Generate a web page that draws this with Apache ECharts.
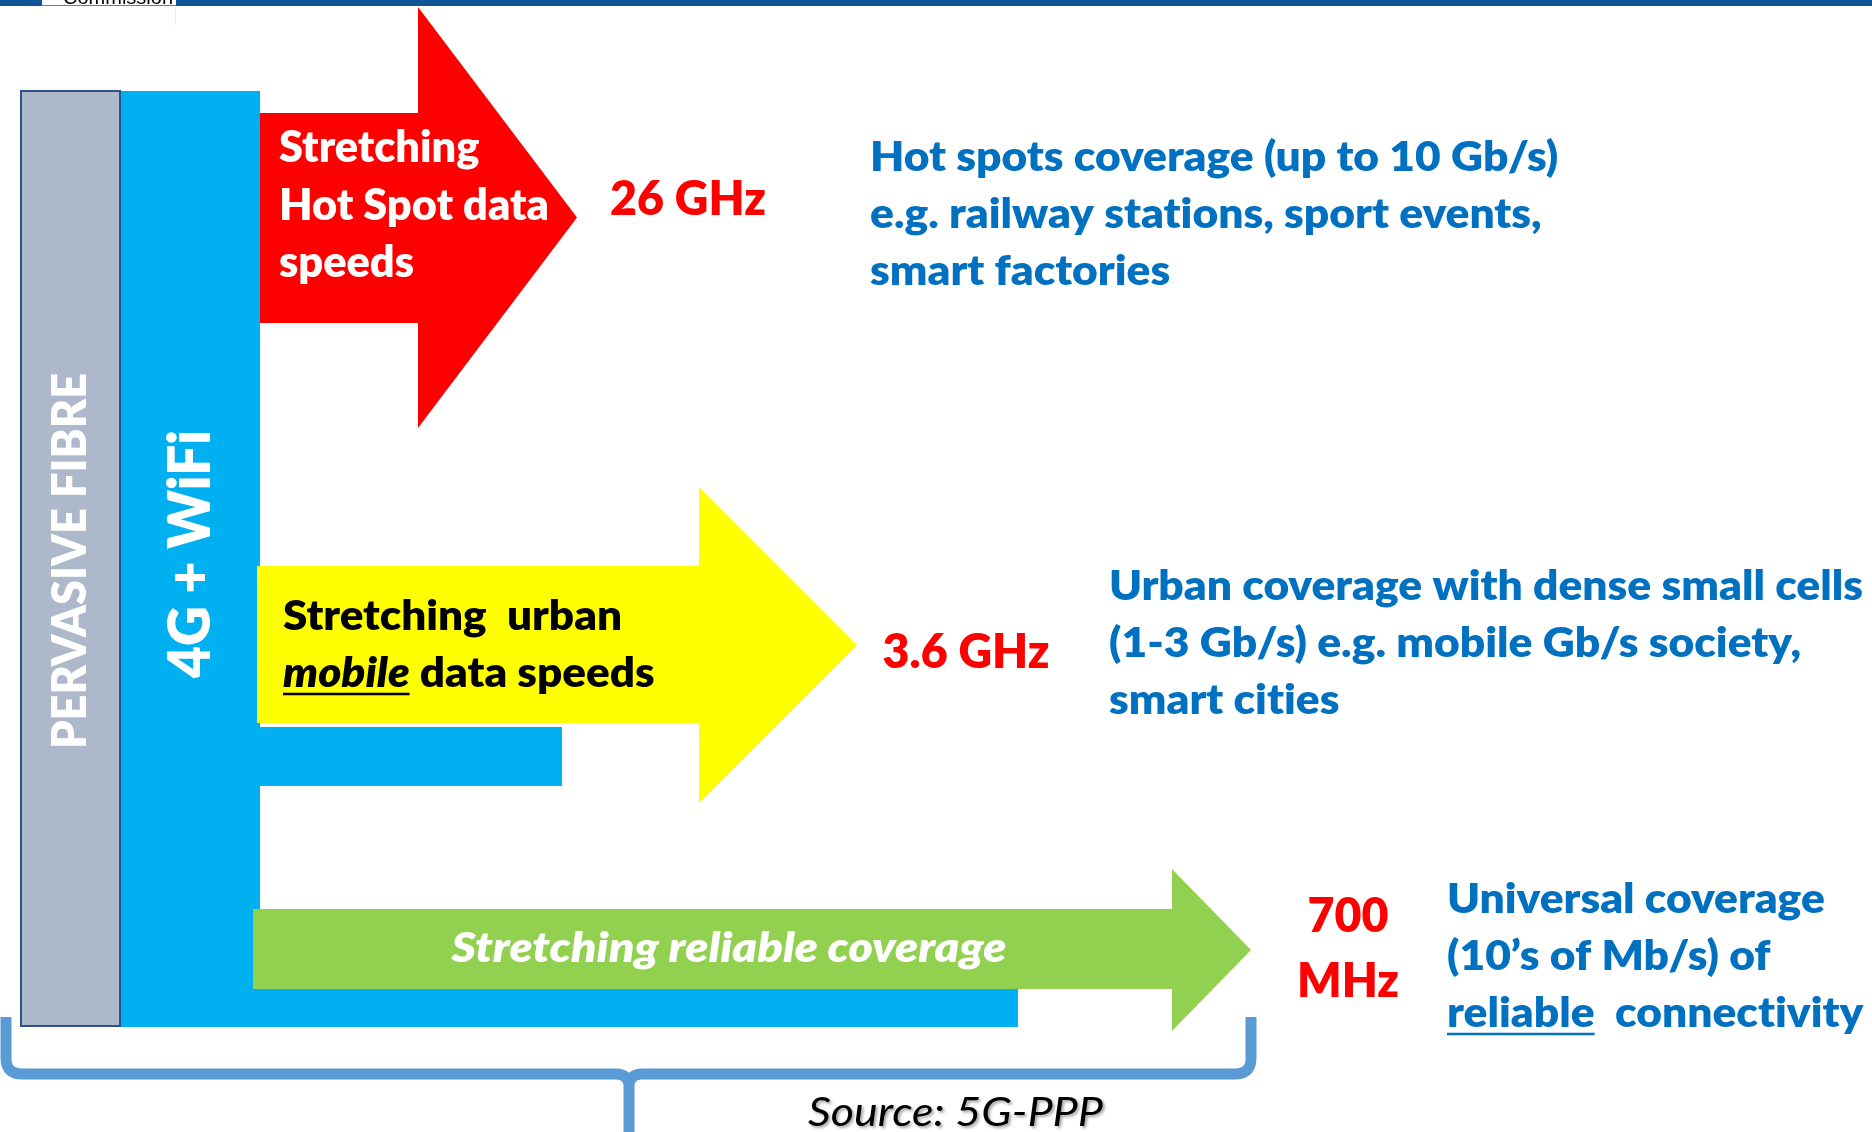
<!DOCTYPE html>
<html>
<head>
<meta charset="utf-8">
<title>5G pioneer bands</title>
<script src="https://cdn.jsdelivr.net/npm/echarts@6.0.0/dist/echarts.min.js"></script>
<style>
  html, body { margin: 0; padding: 0; background: #fff; }
  #chart { width: 1872px; height: 1132px; }
</style>
</head>
<body>
<div id="chart"></div>
<script>
// the slide is laid out on a hidden value grid: 1 unit = 1 px of the slide, y grows downwards
var W = 1872, H = 1132

// vertical columns
var columnTitles = ['PERVASIVE FIBRE', '4G + WiFi']
var columnLeft = [21, 120]
var columnRight = [120, 260]
var columnTop = [91, 91]
var columnBottom = [1026, 1027]

// blue feet of the 4G + WiFi column
var footLeft = [258, 119]
var footRight = [562, 1018]
var footTop = [727, 989]
var footBottom = [786, 1027]

// block arrows, top to bottom
var arrowCaptions = [
  ['Stretching', 'Hot Spot data', 'speeds'],
  ['Stretching  urban', '*mobile* data speeds'],
  ['Stretching reliable coverage']
]
var arrowLeft = [260, 257, 253]
var arrowBodyTop = [113, 566, 909]
var arrowBodyBottom = [323, 723, 989]
var arrowNeck = [418, 699, 1172]
var arrowHeadTop = [7, 487, 869]
var arrowHeadBottom = [428, 803, 1031]
var arrowTip = [577, 857, 1251]

// spectrum bands and what they give
var bandLabels = [['26 GHz'], ['3.6 GHz'], ['700', 'MHz']]
var bandNotes = [
  ['Hot spots coverage (up to 10 Gb/s)', 'e.g. railway stations, sport events,', 'smart factories'],
  ['Urban coverage with dense small cells', '(1-3 Gb/s) e.g. mobile Gb/s society,', 'smart cities'],
  ['Universal coverage', '(10\u2019s of Mb/s) of', '_reliable_  connectivity']
]
var sourceNote = 'Source: 5G-PPP'

// brace under the arrows: left end, stem, right end / ends top, bar, stem bottom
var braceX = [6, 629, 1251]
var braceY = [1017, 1074, 1132]

var C = {
  header: '#0f5598',
  fibre: '#adb9ca',
  fibreLine: '#2f528f',
  wifi: '#00b0f0',
  arrows: ['#ff0000', '#ffff00', '#92d050'],
  band: '#ff0000',
  note: '#0070c0',
  brace: '#5b9bd5'
}
var BOLD = '800'

// ---- text helpers ----
var ctx = document.createElement('canvas').getContext('2d')

function fontOf(size, weight, italic, family) {
  return (italic ? 'italic' : 'normal') + ' ' + weight + ' ' + size + 'px ' + (family || 'Lato')
}
// Lato would join "ti" into a ligature, the slide font does not
function noLig(s) {
  return s.replace(/ti/g, 't\u200ci').replace(/f([il])/g, 'f\u200c$1')
}
function textWidth(s, font) {
  ctx.font = font
  return ctx.measureText(noLig(s)).width
}
// distance from the 'middle' baseline (used by zrender) down to the alphabetic one
function midShift(font) {
  ctx.font = font
  ctx.textBaseline = 'alphabetic'
  var a = ctx.measureText('H').actualBoundingBoxAscent
  ctx.textBaseline = 'middle'
  var m = ctx.measureText('H').actualBoundingBoxAscent
  ctx.textBaseline = 'alphabetic'
  return a - m
}
// *x* = italic + underline, _x_ = underline
function runsOf(line) {
  var out = []
  line.split(/(\*[^*]+\*|_[^_]+_)/g).forEach(function (p) {
    if (!p) return
    if (p[0] === '*') out.push({ t: p.slice(1, -1), it: true, ul: true })
    else if (p[0] === '_') out.push({ t: p.slice(1, -1), ul: true })
    else out.push({ t: p })
  })
  return out
}
function lineWidth(b, line) {
  var w = 0
  runsOf(line).forEach(function (r) {
    w += textWidth(r.t, fontOf(b.size, b.weight, r.it || b.italic))
  })
  return w
}

// text blocks: anchor is the alphabetic baseline of the first line
var blocks = []
function addBlock(lines, x, y, step, opt) {
  var b = Object.assign({ lines: lines, x: x, y: y, step: step, weight: BOLD, align: 'left', rot: 0 }, opt)
  b.sx = b.fitWidth / lineWidth(b, b.fitText)
  blocks.push(b)
}
addBlock([columnTitles[0]], 86, 561, 0, { size: 47, color: '#fff', align: 'center', rot: Math.PI / 2, fitText: columnTitles[0], fitWidth: 376 })
addBlock([columnTitles[1]], 210, 554, 0, { size: 58, color: '#fff', align: 'center', rot: Math.PI / 2, fitText: columnTitles[1], fitWidth: 248 })
addBlock(arrowCaptions[0], 279, 162, 57.5, { size: 43, color: '#fff', fitText: 'Hot Spot data', fitWidth: 270 })
addBlock(arrowCaptions[1], 283, 630, 57, { size: 42, color: '#000', fitText: 'Stretching  urban', fitWidth: 339 })
addBlock(arrowCaptions[2], 729, 962, 0, { size: 42, color: '#fff', italic: true, align: 'center', fitText: arrowCaptions[2][0], fitWidth: 555 })
var bandX = [688, 966, 1348], bandY = [215, 668, 932]
bandLabels.forEach(function (l, i) {
  addBlock(l, bandX[i], bandY[i], 65, { size: 48, color: C.band, align: 'center', fitText: '3.6 GHz', fitWidth: 167 })
})
var noteX = [870, 1109, 1447], noteY = [171, 600, 913]
bandNotes.forEach(function (l, i) {
  addBlock(l, noteX[i], noteY[i], 57, { size: 41, color: C.note, fitText: 'Urban coverage with dense small cells', fitWidth: 754 })
})
addBlock([sourceNote], 808, 1126, 0, { size: 40, weight: 'normal', italic: true, color: '#000', shadow: true, fitText: sourceNote, fitWidth: 295 })

var textData = []
blocks.forEach(function (b, bi) {
  b.lines.forEach(function (l, li) { textData.push([b.x, b.y + li * b.step, bi, li]) })
})

// ---- render functions ----
function renderRect(params, api) {
  var a = api.coord([api.value(0), api.value(1)])
  var c = api.coord([api.value(2), api.value(3)])
  var fibre = api.value(4) === 0
  return {
    type: 'rect',
    shape: { x: a[0], y: a[1], width: c[0] - a[0], height: c[1] - a[1] },
    style: fibre ? { fill: C.fibre, stroke: C.fibreLine, lineWidth: 2 } : { fill: C.wifi }
  }
}

function renderArrow(params, api) {
  var l = api.value(0), bt = api.value(1), bb = api.value(2), n = api.value(3)
  var ht = api.value(4), hb = api.value(5), tip = api.value(6)
  var pts = [[l, bt], [n, bt], [n, ht], [tip, (ht + hb) / 2], [n, hb], [n, bb], [l, bb]].map(function (p) {
    return api.coord(p)
  })
  return { type: 'polygon', shape: { points: pts }, style: { fill: C.arrows[api.value(7)] } }
}

function renderBrace(params, api) {
  var L = api.coord([api.value(0), api.value(3)])
  var M = api.coord([api.value(1), api.value(4)])
  var R = api.coord([api.value(2), api.value(3)])
  var bottom = api.coord([api.value(1), api.value(5)])[1]
  var r = 16, r2 = 13
  var d = 'M' + L[0] + ' ' + L[1] + 'L' + L[0] + ' ' + (M[1] - r) +
    'Q' + L[0] + ' ' + M[1] + ' ' + (L[0] + r) + ' ' + M[1] +
    'L' + (M[0] - r2) + ' ' + M[1] +
    'Q' + M[0] + ' ' + M[1] + ' ' + M[0] + ' ' + (M[1] + r2) +
    'L' + M[0] + ' ' + bottom +
    'M' + R[0] + ' ' + R[1] + 'L' + R[0] + ' ' + (M[1] - r) +
    'Q' + R[0] + ' ' + M[1] + ' ' + (R[0] - r) + ' ' + M[1] +
    'L' + (M[0] + r2) + ' ' + M[1] +
    'Q' + M[0] + ' ' + M[1] + ' ' + M[0] + ' ' + (M[1] + r2)
  return { type: 'path', shape: { pathData: d }, style: { fill: 'none', stroke: C.brace, lineWidth: 11 } }
}

function renderText(params, api) {
  var b = blocks[api.value(2)]
  var line = b.lines[api.value(3)]
  var p = api.coord([api.value(0), api.value(1)])
  var runs = runsOf(line), total = 0
  runs.forEach(function (r) {
    r.italic = r.it || b.italic
    r.font = fontOf(b.size, b.weight, r.italic)
    r.w = textWidth(r.t, r.font)
    total += r.w
  })
  var cx = b.align === 'center' ? -total / 2 : 0
  var children = []
  runs.forEach(function (r) {
    var st = {
      text: noLig(r.t), x: cx, y: -midShift(r.font),
      fill: b.color, fontSize: b.size, fontFamily: 'Lato',
      fontWeight: b.weight, fontStyle: r.italic ? 'italic' : 'normal',
      align: 'left', verticalAlign: 'middle'
    }
    if (b.shadow) {
      st.textShadowColor = 'rgba(0,0,0,0.35)'
      st.textShadowBlur = 3
      st.textShadowOffsetX = 2
      st.textShadowOffsetY = 2
    }
    children.push({ type: 'text', style: st })
    if (r.ul) {
      children.push({
        type: 'line',
        shape: { x1: cx, y1: 7, x2: cx + r.w, y2: 7 },
        style: { stroke: b.color, lineWidth: 2.5 }
      })
    }
    cx += r.w
  })
  return { type: 'group', x: p[0], y: p[1], rotation: b.rot, scaleX: b.sx, children: children }
}

var rectData = [
  [columnLeft[1], columnTop[1], columnRight[1], columnBottom[1], 1],
  [footLeft[0], footTop[0], footRight[0], footBottom[0], 1],
  [footLeft[1], footTop[1], footRight[1], footBottom[1], 1],
  [columnLeft[0], columnTop[0], columnRight[0], columnBottom[0], 0]
]
var arrowData = arrowLeft.map(function (l, i) {
  return [l, arrowBodyTop[i], arrowBodyBottom[i], arrowNeck[i], arrowHeadTop[i], arrowHeadBottom[i], arrowTip[i], i]
})
var braceData = [[braceX[0], braceX[1], braceX[2], braceY[0], braceY[1], braceY[2]]]

var chart = echarts.init(document.getElementById('chart'), null, { renderer: 'canvas' })
chart.setOption({
  animation: false,
  backgroundColor: '#fff',
  grid: { left: 0, right: 0, top: 0, bottom: 0 },
  xAxis: { type: 'value', min: 0, max: W, show: false },
  yAxis: { type: 'value', min: 0, max: H, inverse: true, show: false },
  graphic: [
    { type: 'rect', shape: { x: 0, y: 0, width: W, height: 6 }, style: { fill: C.header } },
    { type: 'rect', shape: { x: 42, y: 0, width: 134, height: 5 }, style: { fill: '#fff' } },
    { type: 'line', shape: { x1: 42, y1: 5.5, x2: 176, y2: 5.5 }, style: { stroke: '#4a7fd0', lineWidth: 1 } },
    {
      type: 'text', x: 63, y: 4 - midShift('normal normal 20px Liberation Sans'),
      style: { text: 'Commission', fill: '#000', fontSize: 20, fontFamily: 'Liberation Sans', verticalAlign: 'middle' }
    },
    { type: 'line', shape: { x1: 175.5, y1: 7, x2: 175.5, y2: 25 }, style: { stroke: '#e6ebf2', lineWidth: 1 } }
  ],
  series: [
    { type: 'custom', name: 'columns', renderItem: renderRect, data: rectData, z: 2 },
    { type: 'custom', name: 'arrows', renderItem: renderArrow, data: arrowData, z: 3 },
    { type: 'custom', name: 'brace', renderItem: renderBrace, data: braceData, z: 3 },
    { type: 'custom', name: 'text', renderItem: renderText, data: textData, z: 5 }
  ]
})
</script>
</body>
</html>
